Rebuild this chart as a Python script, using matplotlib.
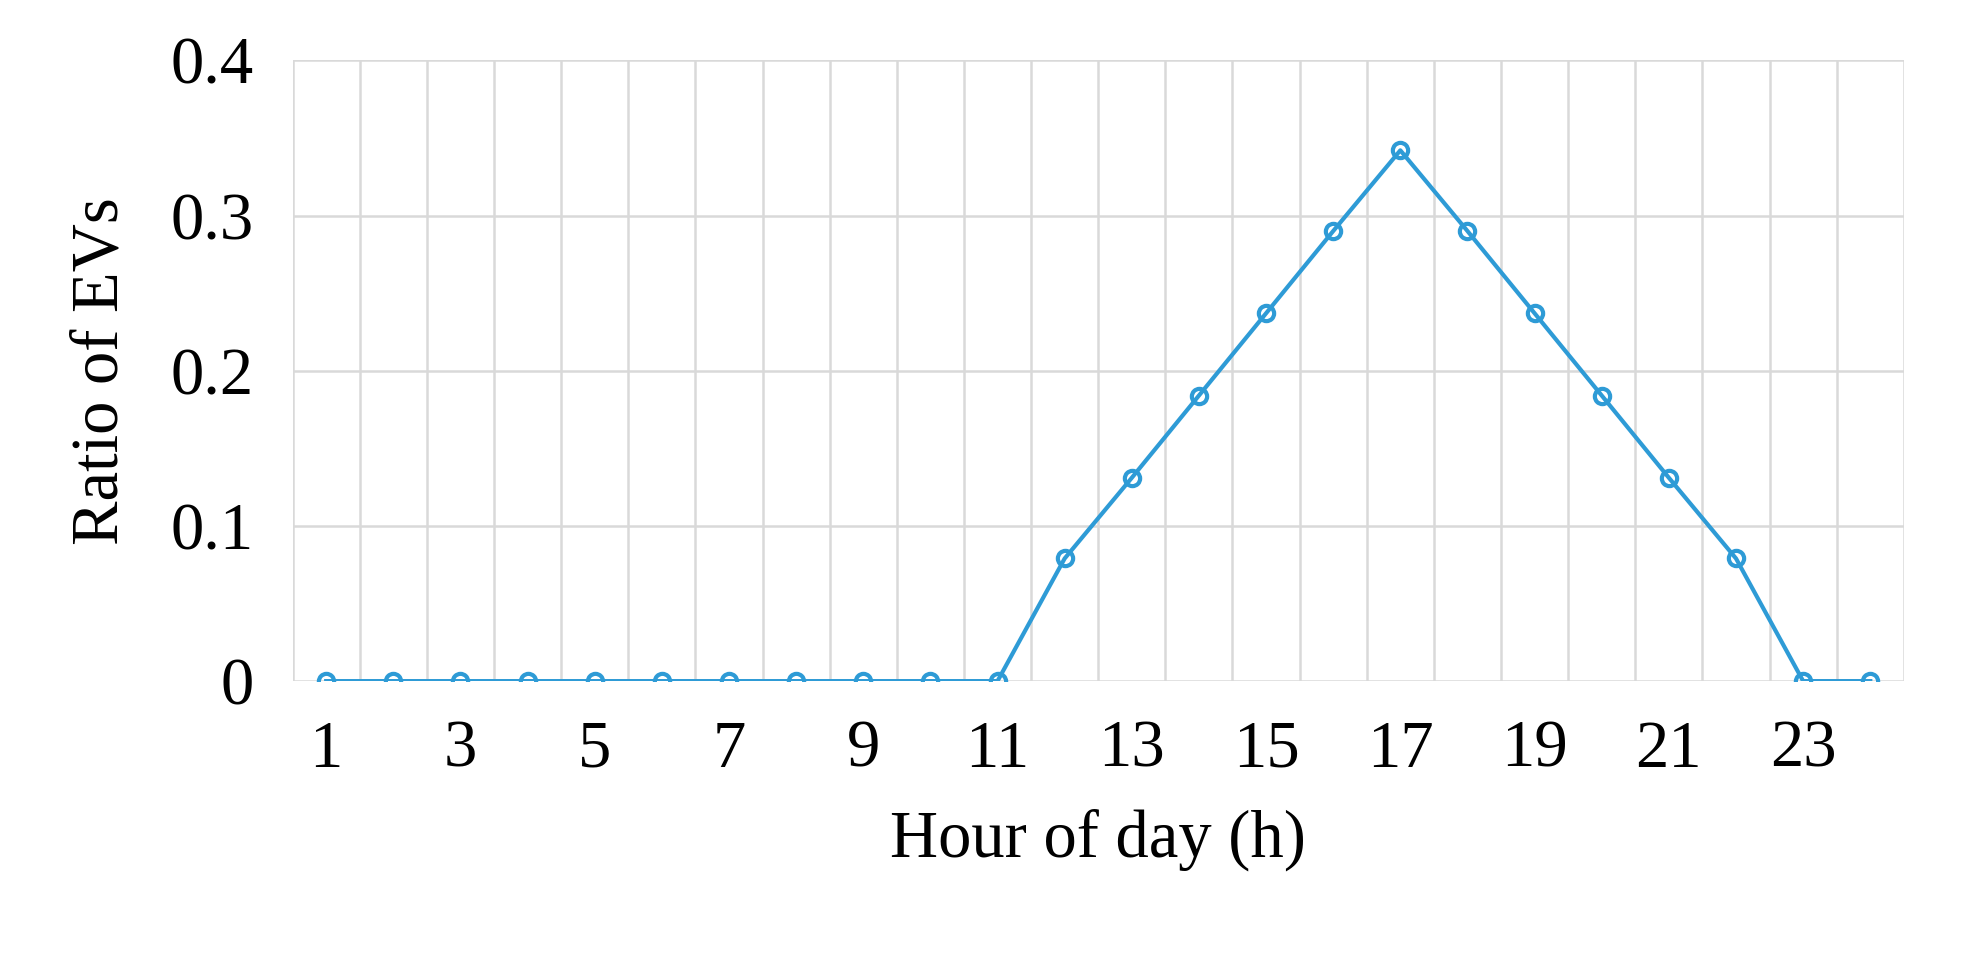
import numpy as np
from matplotlib import pyplot as plt

hours = list(range(1, 25))
ratio = [0, 0, 0, 0, 0, 0, 0, 0, 0, 0, 0,
         0.079, 0.131, 0.184, 0.237, 0.290, 0.342, 0.290, 0.237, 0.184, 0.131, 0.079,
         0, 0]
xtick_labels = [str(h) for h in range(1, 24, 2)]

plt.rcParams['font.family'] = ['Liberation Serif', 'DejaVu Serif']

fig = plt.figure(figsize=(19.77, 9.73), dpi=100)
ax = fig.add_axes([0.148, 0.30, 0.815, 0.638])

ax.plot(hours, ratio, color='#2E9BD6', lw=3, marker='o', ms=11,
        mfc='none', mec='#2E9BD6', mew=3, zorder=3)

ax.set_xlim(0.5, 24.5)
ax.set_ylim(0, 0.4)
ax.set_yticks([0, 0.1, 0.2, 0.3, 0.4])
ax.set_yticklabels(['0', '0.1', '0.2', '0.3', '0.4'])
ax.set_xticks(range(1, 24, 2))
ax.set_xticklabels(xtick_labels)
# category boundaries as vertical gridlines
ax.set_xticks(np.arange(0.5, 25, 1), minor=True)
ax.grid(True, which='minor', axis='x', color='#d9d9d9', lw=1.8)
ax.grid(True, which='major', axis='y', color='#d9d9d9', lw=1.8)
ax.tick_params(which='both', length=0, labelsize=48, pad=28)
for s in ax.spines.values():
    s.set_visible(False)

ax.set_xlabel('Hour of day (h)', fontsize=48, labelpad=20)
ax.set_ylabel('Ratio of EVs', fontsize=48, labelpad=28)

fig.savefig('out.png')
